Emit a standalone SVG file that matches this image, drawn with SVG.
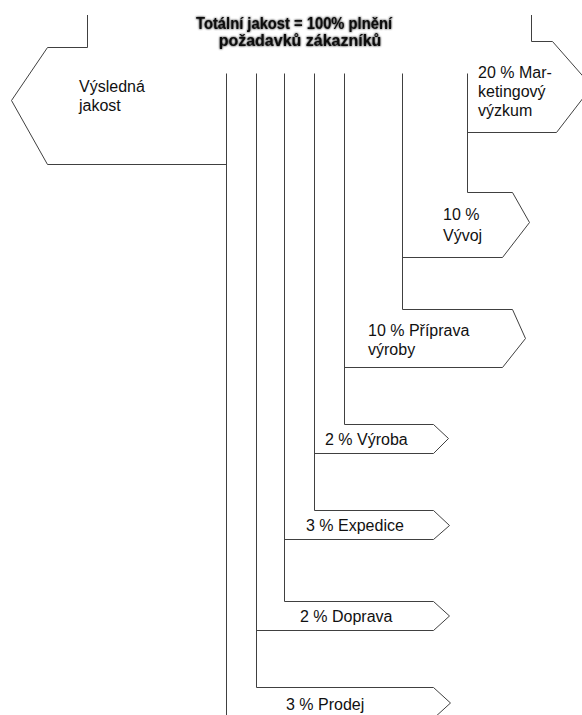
<svg xmlns="http://www.w3.org/2000/svg" width="582" height="715" viewBox="0 0 582 715">
<defs>
<style>
.ln{fill:none;stroke:#404040;stroke-width:1;stroke-linejoin:miter}
.t{font-family:"Liberation Sans",Arial,sans-serif;font-size:16px;fill:#111}
.title{font-family:"Liberation Sans",Arial,sans-serif;font-size:16px;font-weight:bold;fill:#111}
</style>
<filter id="glow" x="-10%" y="-30%" width="120%" height="160%">
<feGaussianBlur in="SourceAlpha" stdDeviation="0.9" result="b"/>
<feMerge><feMergeNode in="b"/><feMergeNode in="SourceGraphic"/></feMerge>
</filter>
</defs>
<rect width="582" height="715" fill="#fff"/>
<g id="title">
<text class="title" filter="url(#glow)" x="196" y="29" textLength="196" lengthAdjust="spacingAndGlyphs">Totální jakost = 100% plnění</text>
<text class="title" filter="url(#glow)" x="300" y="45.5" text-anchor="middle">požadavků zákazníků</text>
</g>
<g id="connectors">
<line class="ln" x1="226.5" y1="73.5" x2="226.5" y2="715"/>
<line class="ln" x1="256.5" y1="73.5" x2="256.5" y2="687.5"/>
<line class="ln" x1="284.5" y1="73.5" x2="284.5" y2="601.5"/>
<line class="ln" x1="314.5" y1="73.5" x2="314.5" y2="510.5"/>
<line class="ln" x1="344.5" y1="73.5" x2="344.5" y2="424.5"/>
<line class="ln" x1="402.5" y1="73.5" x2="402.5" y2="309.5"/>
<line class="ln" x1="467.5" y1="73.5" x2="467.5" y2="192.5"/>
</g>
<g id="vysledna-jakost">
<polyline class="ln" points="87.5,15 87.5,47.5 47.5,47.5 11.5,100.5 47.5,164.5 226.5,164.5"/>
<text class="t" x="79" y="92">Výsledná</text>
<text class="t" x="79" y="110.5">jakost</text>
</g>
<g id="marketing">
<polyline class="ln" points="531.5,15 531.5,41.5 552.5,41.5 592,86.5 556.5,132.5 467.5,132.5"/>
<text class="t" x="478" y="78">20 % Mar-</text>
<text class="t" x="478" y="97">ketingový</text>
<text class="t" x="478" y="116">výzkum</text>
</g>
<g id="vyvoj">
<polyline class="ln" points="467.5,192.5 512.5,192.5 529.5,222.5 502.5,257.5 402.5,257.5"/>
<text class="t" x="443" y="220">10 %</text>
<text class="t" x="443" y="241">Vývoj</text>
</g>
<g id="priprava">
<polyline class="ln" points="402.5,309.5 512.5,309.5 525.5,338.5 502.5,367.5 344.5,367.5"/>
<text class="t" x="368" y="336">10 % Příprava</text>
<text class="t" x="368" y="354.5">výroby</text>
</g>
<g id="vyroba">
<polyline class="ln" points="344.5,424.5 433.5,424.5 448.5,438.5 433.5,453.5 314.5,453.5"/>
<text class="t" x="325" y="445">2 % Výroba</text>
</g>
<g id="expedice">
<polyline class="ln" points="314.5,510.5 433.5,510.5 449.5,525.5 433.5,539.5 284.5,539.5"/>
<text class="t" x="306" y="531">3 % Expedice</text>
</g>
<g id="doprava">
<polyline class="ln" points="284.5,601.5 433.5,601.5 449.5,616 433.5,630.5 256.5,630.5"/>
<text class="t" x="300" y="622">2 % Doprava</text>
</g>
<g id="prodej">
<polyline class="ln" points="256.5,687.5 433.5,687.5 450.5,703 433.5,718.5 256.5,718.5"/>
<text class="t" x="286" y="710">3 % Prodej</text>
</g>
</svg>
